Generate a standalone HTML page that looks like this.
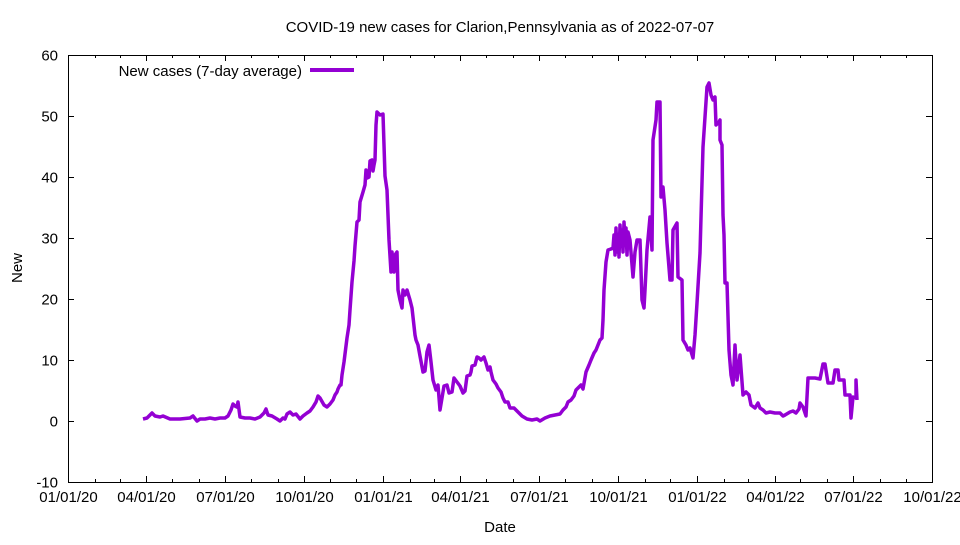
<!DOCTYPE html>
<html><head><meta charset="utf-8"><style>
body{margin:0;background:#fff}
svg text{font-family:"Liberation Sans",sans-serif;font-size:15px;fill:#000}
</style></head><body>
<svg id="s" width="960" height="540" xmlns="http://www.w3.org/2000/svg">
<rect x="0" y="0" width="960" height="540" fill="#fff"/>
<g id="ticks" stroke="#000" stroke-width="1"></g>
<rect x="68.5" y="55.5" width="864" height="427" fill="none" stroke="#000" stroke-width="1"/>
<text x="500" y="32" text-anchor="middle">COVID-19 new cases for Clarion,Pennsylvania as of 2022-07-07</text>
<text x="500" y="532" text-anchor="middle">Date</text>
<text transform="translate(22,268) rotate(-90)" text-anchor="middle">New</text>
<g id="lab"></g>
<text x="302" y="76" text-anchor="end">New cases (7-day average)</text>
<line x1="310" y1="70" x2="354" y2="70" stroke="#9400d3" stroke-width="4"/>
<polyline fill="none" stroke="#9400d3" stroke-width="3.5" stroke-linejoin="round" points="143,419 147,418 152,413 155,416 160,417 163,416 170,419 180,419 190,418 193,416 197,421 200,419 205,419 210,418 215,419 220,418 225,418 228,416 231,410 233,404 235,406 237,407 238,402 240,417 245,418 250,418 255,419 260,417 264,413 266,409 268,415 272,416 277,419 280,421 283,418 285,419 287,414 290,412 293,415 296,414 300,419 303,416 307,413 310,411 313,407 316,402 318,396 320,398 324,405 327,407 330,404 333,400 335,395 337,392 338,389 340,385 341,385 342,375 344,362 347,338 349,325 350,310 352,282 354,261 355,246 357,222 359,220 360,202 363,192 365,185 366,170 367,178 369,177 370,161 372,160 373,171 374,165 375,160 376,125 377,112 380,115 383,114 385,176 387,190 389,240 391,272 392,252 394,272 395,255 397,252 398,290 400,300 402,308 403,290 405,295 407,290 410,300 412,308 415,335 416,340 418,345 420,356 423,372 425,371 427,352 429,345 431,362 433,380 436,390 438,385 440,410 444,386 447,385 449,393 452,392 454,378 457,382 460,386 463,393 465,391 467,376 470,375 471,372 472,366 475,365 477,357 479,358 481,360 484,357 486,363 488,370 490,367 491,372 493,380 496,384 498,388 501,392 503,398 505,402 508,402 510,408 514,408 518,412 522,416 527,419 532,420 537,419 540,421 545,418 550,416 555,415 560,414 563,410 566,407 568,402 571,400 574,396 576,390 578,388 581,385 583,389 586,372 589,365 591,360 594,353 596,350 600,340 602,338 603,320 604,290 606,262 608,250 611,249 613,248 614,235 615,255 616,228 617,252 618,235 619,257 620,225 621,245 622,230 623,252 624,222 625,240 626,228 627,255 628,232 630,240 633,277 635,252 637,240 640,240 642,300 644,308 645,290 647,250 650,217 652,250 653,140 656,120 657,102 660,102 661,197 663,187 665,210 667,243 670,280 672,280 673,230 677,223 678,277 682,280 683,340 686,345 688,350 690,348 693,358 695,335 697,303 700,253 703,147 707,87 709,83 711,95 713,100 715,97 716,125 719,122 720,120 720,140 722,145 723,215 724,235 725,283 727,283 729,350 731,375 733,385 735,345 737,380 740,355 743,395 746,392 749,395 751,405 755,408 758,403 760,408 763,410 766,413 770,412 775,413 780,413 783,416 785,415 790,412 793,411 796,413 799,409 800,403 803,407 806,416 808,378 815,378 820,379 823,364 825,364 828,383 833,383 835,370 838,370 839,380 844,380 845,395 850,395 851,418 853,397 856,398 856,380 857,400"/>
</svg>
<script>
var t=document.getElementById('ticks'),l=document.getElementById('lab'),ns='http://www.w3.org/2000/svg';
function ln(a,b,c,d){var e=document.createElementNS(ns,'line');e.setAttribute('x1',a);e.setAttribute('y1',b);e.setAttribute('x2',c);e.setAttribute('y2',d);t.appendChild(e);}
function tx(x,y,s,a){var e=document.createElementNS(ns,'text');e.setAttribute('x',x);e.setAttribute('y',y);e.setAttribute('text-anchor',a);e.textContent=s;l.appendChild(e);}
for(var v=-10;v<=60;v+=10){var y=421-v*6.1+0.5;ln(68,y,74,y);ln(926,y,932,y);tx(58,y+5,v,'end');}
var base=Date.UTC(2020,0,1),sc=864/1004;
for(var m=0;m<=33;m++){var d=(Date.UTC(2020,m,1)-base)/864e5;var x=Math.round(68+d*sc)+0.5;
 if(m%3==0){ln(x,482,x,476);ln(x,55,x,61);var dt=new Date(Date.UTC(2020,m,1));
 var s=('0'+(dt.getUTCMonth()+1)).slice(-2)+'/01/'+String(dt.getUTCFullYear()).slice(2);tx(x,502,s,'middle');}
 else{ln(x,482,x,479);ln(x,55,x,58);}}
</script>
</body></html>
